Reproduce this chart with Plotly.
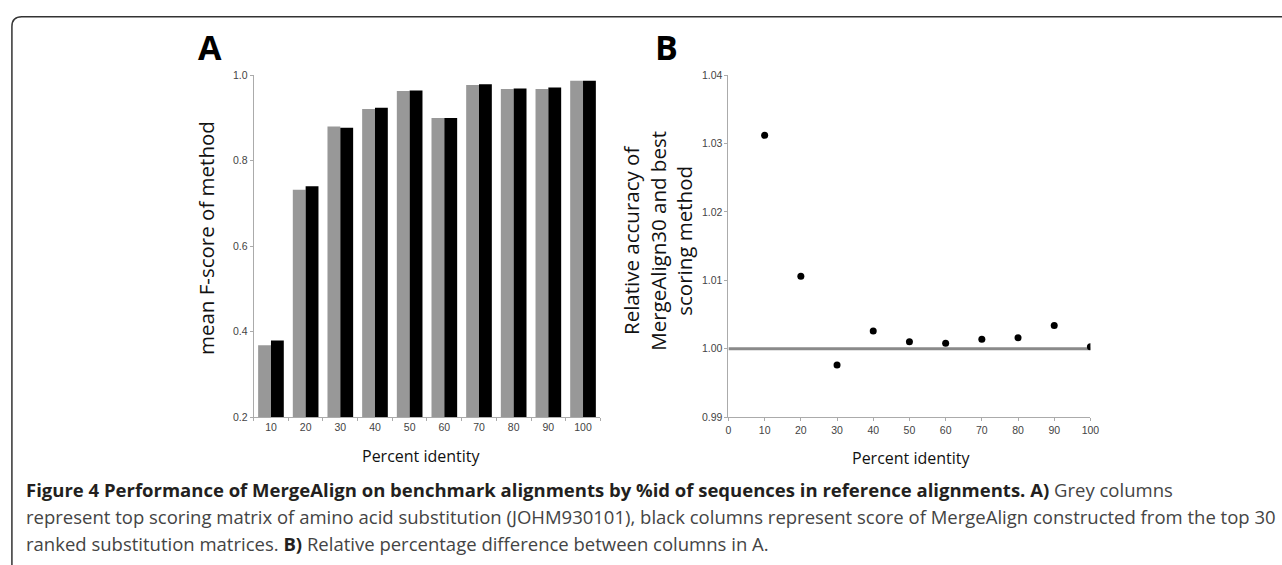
import plotly.graph_objects as go

W, H = 1282, 565

# ---- data ----
categories = ["10", "20", "30", "40", "50", "60", "70", "80", "90", "100"]
grey_scores = [0.368, 0.732, 0.880, 0.921, 0.963, 0.900, 0.977, 0.968, 0.968, 0.987]
black_scores = [0.379, 0.740, 0.877, 0.924, 0.964, 0.900, 0.979, 0.969, 0.971, 0.987]

pid = [10, 20, 30, 40, 50, 60, 70, 80, 90, 100]
relative_acc = [1.0312, 1.0106, 0.9976, 1.0026, 1.0010, 1.0008, 1.0014, 1.0016, 1.0034, 1.0003]
ref_x = [0, 100]
ref_y = [1.0, 1.0]

a_yticks = [0.2, 0.4, 0.6, 0.8, 1.0]
a_yticklabels = ["0.2", "0.4", "0.6", "0.8", "1.0"]
b_yticks = [0.99, 1.00, 1.01, 1.02, 1.03, 1.04]
b_yticklabels = ["0.99", "1.00", "1.01", "1.02", "1.03", "1.04"]
b_xticks = [0, 10, 20, 30, 40, 50, 60, 70, 80, 90, 100]


def px(x):
    return x / W


def py(y):
    return 1 - y / H


fig = go.Figure()
fig.add_trace(go.Bar(x=categories, y=grey_scores, marker=dict(color="#989898", line=dict(width=0)),
                     xaxis="x", yaxis="y", showlegend=False))
fig.add_trace(go.Bar(x=categories, y=black_scores, marker=dict(color="#000000", line=dict(width=0)),
                     xaxis="x", yaxis="y", showlegend=False))
fig.add_trace(go.Scatter(x=ref_x, y=ref_y, mode="lines", line=dict(color="#8a8a8a", width=3),
                         xaxis="x2", yaxis="y2", showlegend=False))
fig.add_trace(go.Scatter(x=pid, y=relative_acc, mode="markers", marker=dict(color="#000000", size=7),
                         xaxis="x2", yaxis="y2", showlegend=False))

tickfont = dict(family="Liberation Sans, Arial", size=10.5, color="#444444")
axline = dict(showline=True, linecolor="#ababab", linewidth=1, ticks="outside", tickcolor="#ababab",
              ticklen=3, tickwidth=1, showgrid=False, zeroline=False, tickfont=tickfont)

y_dom = [py(420), py(70.7)]

fig.update_layout(
    width=W, height=H,
    margin=dict(l=0, r=0, t=0, b=0),
    paper_bgcolor="white", plot_bgcolor="white",
    barmode="group", bargap=0.26, bargroupgap=0.0,
    xaxis=dict(domain=[px(253), px(603)], anchor="y", type="category", tickson="boundaries",
               showline=True, linecolor="#ababab", ticks="outside", tickcolor="#ababab", ticklen=3,
               showgrid=False, zeroline=False, tickfont=tickfont),
    yaxis=dict(domain=y_dom, anchor="x", range=[0.2, 1.0], tickvals=a_yticks, ticktext=a_yticklabels, **axline),
    xaxis2=dict(domain=[px(732.3), px(1097.7)], anchor="y2", range=[0, 100], tickvals=b_xticks, **axline),
    yaxis2=dict(domain=y_dom, anchor="x2", range=[0.99, 1.04], tickvals=b_yticks, ticktext=b_yticklabels,
                **axline),
)

ytitle_font = dict(family="Open Sans", size=20.5, color="#111111")
xtitle_font = dict(family="Open Sans", size=16, color="#111111")
cap_font = dict(family="Open Sans", size=18.5, color="#444444")
ann = [
    dict(x=px(209), y=py(42), text="<b>A</b>", font=dict(family="Open Sans", size=34, color="#000000")),
    dict(x=px(670), y=py(42), text="<b>B</b>", font=dict(family="Open Sans", size=34, color="#000000")),
    dict(x=px(205), y=py(237), text="mean F-score of method", textangle=-90, font=ytitle_font),
    dict(x=px(661), y=py(240), text="Relative accuracy of<br>MergeAlign30 and best<br>scoring method",
         textangle=-90, font=ytitle_font),
    dict(x=px(422), y=py(460), text="Percent identity", font=xtitle_font),
    dict(x=px(917), y=py(462), text="Percent identity", font=xtitle_font),
    dict(x=px(21), y=py(494), xanchor="left",
         text="<b><span style='color:#231f20'>Figure 4 Performance of MergeAlign on benchmark alignments by %id of sequences in reference alignments. A)</span></b> Grey columns",
         font=cap_font),
    dict(x=px(21), y=py(522), xanchor="left",
         text="represent top scoring matrix of amino acid substitution (JOHM930101), black columns represent score of MergeAlign constructed from the top 30",
         font=cap_font),
    dict(x=px(21), y=py(549), xanchor="left",
         text="ranked substitution matrices. <b><span style='color:#231f20'>B)</span></b> Relative percentage difference between columns in A.",
         font=cap_font),
]
for a in ann:
    a.setdefault("xanchor", "center")
    a.update(xref="paper", yref="paper", yanchor="middle", showarrow=False)
fig.update_layout(annotations=ann)

# rounded frame, open to the right and bottom (cropped figure box)
r = 10
path = (f"M {px(9)},-0.05 L {px(9)},{py(11 + r)} Q {px(9)},{py(11)} {px(9 + r)},{py(11)} L 1.05,{py(11)}")
fig.add_shape(type="path", path=path, xref="paper", yref="paper", line=dict(color="#333333", width=1.5))

fig.write_html("out.html", config={"displayModeBar": False},
               post_script="document.body.style.margin='0px';document.body.style.overflow='hidden';")
